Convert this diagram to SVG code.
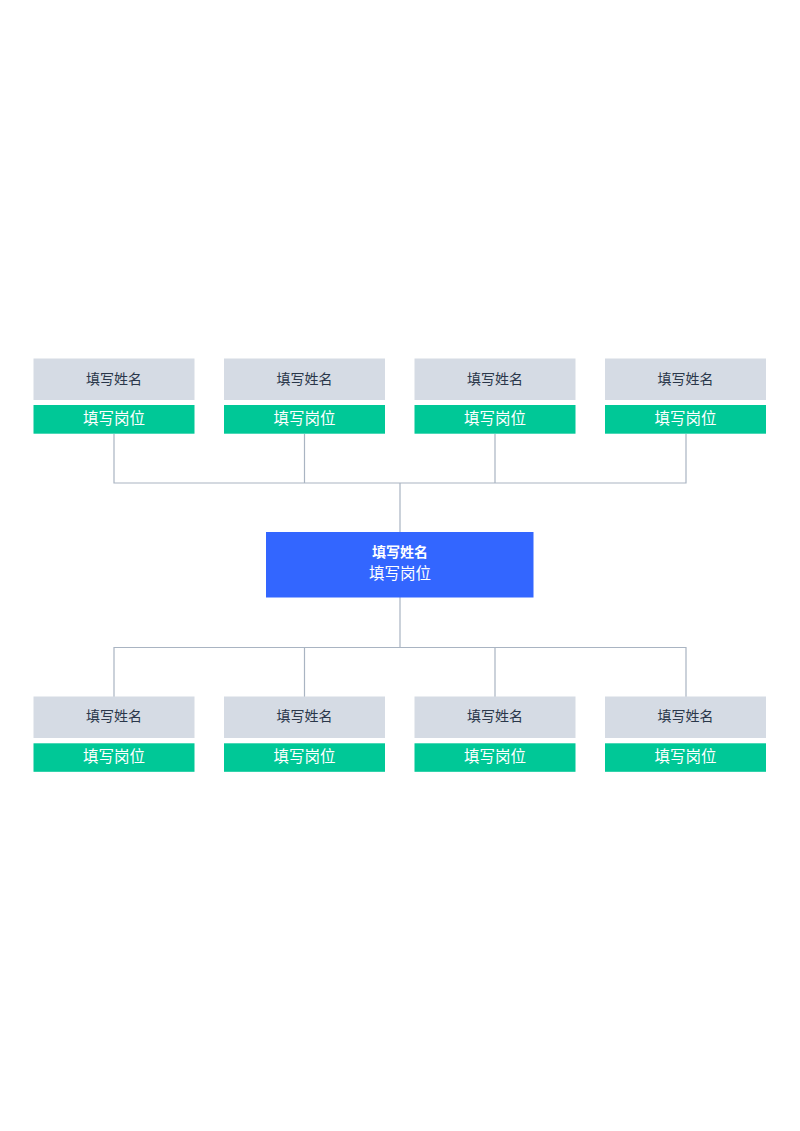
<svg xmlns="http://www.w3.org/2000/svg" width="800" height="1131" viewBox="0 0 800 1131">
<style>
.name{fill:#D5DBE4}
.pos{fill:#00C897}
.nt{font-family:"Noto Sans CJK SC","Liberation Sans",sans-serif;font-size:14px;fill:#2A374A;text-anchor:middle;dominant-baseline:central}
.pt{font-family:"Noto Sans CJK SC","Liberation Sans",sans-serif;font-size:15.5px;fill:#FFFFFF;text-anchor:middle;dominant-baseline:central}
.ln{stroke:#A9B4C2;stroke-width:1.2;fill:none}
</style>
<rect width="800" height="1131" fill="#FFFFFF"/>
<g id="connectors">
<path class="ln" d="M114,434 V483 H686 V434 M304.5,434 V483 M495,434 V483 M400,483 V532"/>
<path class="ln" d="M400,597 V647.5 M114,697 V647.5 H686 V697 M304.5,647.5 V697 M495,647.5 V697"/>
</g>
<g id="center">
<rect x="266" y="532" width="267.5" height="65.5" fill="#3366FF"/>
<text x="400" y="550.5" class="pt" style="font-size:14px;font-weight:bold">填写姓名</text>
<text x="400" y="571.5" class="pt">填写岗位</text>
</g>
<g id="top1"><rect class="name" x="33.5" y="358.5" width="161" height="41.5"/><rect class="pos" x="33.5" y="405" width="161" height="28.7"/><text class="nt" x="114" y="377.5">填写姓名</text><text class="pt" x="114" y="417">填写岗位</text></g>
<g id="top2"><rect class="name" x="224" y="358.5" width="161" height="41.5"/><rect class="pos" x="224" y="405" width="161" height="28.7"/><text class="nt" x="304.5" y="377.5">填写姓名</text><text class="pt" x="304.5" y="417">填写岗位</text></g>
<g id="top3"><rect class="name" x="414.5" y="358.5" width="161" height="41.5"/><rect class="pos" x="414.5" y="405" width="161" height="28.7"/><text class="nt" x="495" y="377.5">填写姓名</text><text class="pt" x="495" y="417">填写岗位</text></g>
<g id="top4"><rect class="name" x="605" y="358.5" width="161" height="41.5"/><rect class="pos" x="605" y="405" width="161" height="28.7"/><text class="nt" x="685.5" y="377.5">填写姓名</text><text class="pt" x="685.5" y="417">填写岗位</text></g>
<g id="bot1"><rect class="name" x="33.5" y="696.5" width="161" height="41.5"/><rect class="pos" x="33.5" y="743.3" width="161" height="28.5"/><text class="nt" x="114" y="714.5">填写姓名</text><text class="pt" x="114" y="754.5">填写岗位</text></g>
<g id="bot2"><rect class="name" x="224" y="696.5" width="161" height="41.5"/><rect class="pos" x="224" y="743.3" width="161" height="28.5"/><text class="nt" x="304.5" y="714.5">填写姓名</text><text class="pt" x="304.5" y="754.5">填写岗位</text></g>
<g id="bot3"><rect class="name" x="414.5" y="696.5" width="161" height="41.5"/><rect class="pos" x="414.5" y="743.3" width="161" height="28.5"/><text class="nt" x="495" y="714.5">填写姓名</text><text class="pt" x="495" y="754.5">填写岗位</text></g>
<g id="bot4"><rect class="name" x="605" y="696.5" width="161" height="41.5"/><rect class="pos" x="605" y="743.3" width="161" height="28.5"/><text class="nt" x="685.5" y="714.5">填写姓名</text><text class="pt" x="685.5" y="754.5">填写岗位</text></g>
</svg>
